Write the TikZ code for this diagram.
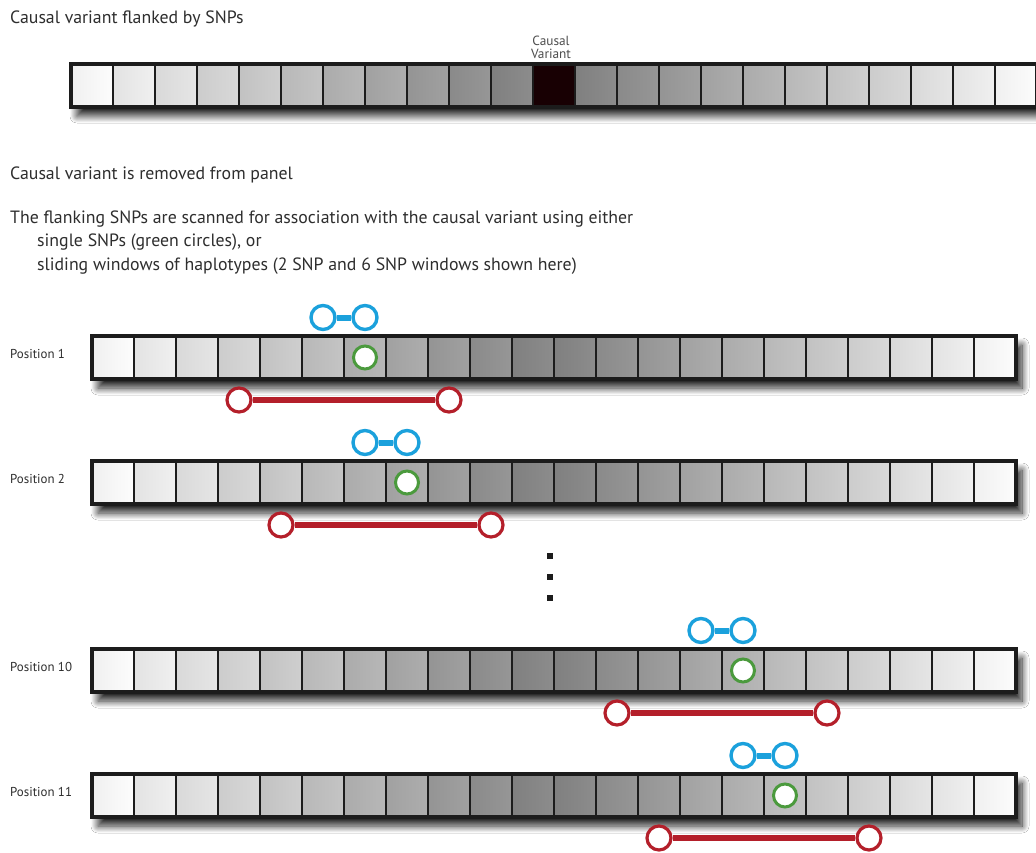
\documentclass[tikz,border=0pt]{standalone}
\usepackage{fontspec}
\setmainfont{PT Sans}
\usetikzlibrary{shadows.blur}

\definecolor{txt}{HTML}{2E2E2E}
\definecolor{snpblue}{HTML}{1BA1DC}
\definecolor{snpgreen}{HTML}{4B9A3D}
\definecolor{snpred}{HTML}{B41F2A}
\definecolor{causal}{HTML}{180003}
\definecolor{edge}{HTML}{1C1C1C}

\tikzset{
  head text/.style={text=txt, inner sep=0pt, anchor=base west, font=\fontsize{17.8}{20}\selectfont},
  small text/.style={text=txt, inner sep=0pt, anchor=base west, font=\fontsize{12.9}{15}\selectfont},
  tag text/.style={text=txt!85, inner sep=0pt, align=center, font=\fontsize{13.3}{16}\selectfont},
  single snp/.style={circle, draw=snpgreen, line width=3pt, fill=white, minimum size=23pt, inner sep=0pt},
  pair snp/.style={circle, draw=snpblue, line width=3.4pt, fill=white, minimum size=24pt, inner sep=0pt},
  window snp/.style={circle, draw=snpred, line width=3.2pt, fill=white, minimum size=24pt, inner sep=0pt},
  pair link/.style={draw=snpblue, line width=6pt},
  window link/.style={draw=snpred, line width=5.5pt},
  cellgrid/.style={draw=edge, line width=2.5pt},
  barframe/.style={draw=edge, line width=3.5pt},
  bar shadow/.style={blur shadow={shadow xshift=6pt, shadow yshift=-9pt,
      shadow blur radius=7pt, shadow blur steps=14, shadow opacity=85}},
  gapdot/.style={rectangle, fill=edge, minimum size=6pt, inner sep=0pt},
}

\begin{document}
\begin{tikzpicture}[x=1pt,y=-1pt]
\clip (0,0) rectangle (1036,853);
\fill[white] (0,0) rectangle (1036,853);

% captions
\node[head text] (t1) at (10,23.5) {Causal variant flanked by SNPs};
\node[head text] (t2) at (10,179.5) {Causal variant is removed from panel};
\node[head text] (t3) at (10,224) {The flanking SNPs are scanned for association with the causal variant using either};
\node[head text] (t4) at (37,247) {single SNPs (green circles), or};
\node[head text] (t5) at (37,270) {sliding windows of haplotypes (2 SNP and 6 SNP windows shown here)};

% full panel with the causal variant in the middle
\path[bar shadow] (71,64) rectangle ++(966,43);
\foreach \i in {0,...,22} {
  \pgfmathtruncatemacro\d{min(\i,22-\i)}
  \pgfmathtruncatemacro\lo{94-4.4*\d}
  \pgfmathtruncatemacro\hi{99-4.4*\d}
  \shade[left color=white!\lo!black, right color=white!\hi!black] ({71+42*\i},64) rectangle ++(42,43);
}
\fill[causal] (533,64) rectangle ++(42,43);
\foreach \i in {1,...,22} \draw[cellgrid] ({71+42*\i},64) -- ++(0,43);
\draw[barframe] (71,64) rectangle ++(966,43);
\node[tag text] (cv) at (551,47) {Causal\\[-3pt]Variant};

% scanned panels
\foreach \k/\yy in {1/336, 2/461, 10/649, 11/774} {
  \path[bar shadow] (92,\yy) rectangle ++(924,43);
  \foreach \i in {0,...,21} {
    \pgfmathtruncatemacro\d{min(\i,21-\i)}
    \pgfmathtruncatemacro\lo{94-4.4*\d}
    \pgfmathtruncatemacro\hi{99-4.4*\d}
    \shade[left color=white!\lo!black, right color=white!\hi!black] ({92+42*\i},\yy) rectangle ++(42,43);
  }
  \foreach \i in {1,...,21} \draw[cellgrid] ({92+42*\i},\yy) -- ++(0,43);
  \draw[barframe] (92,\yy) rectangle ++(924,43);
  \node[small text] (lab\k) at (10,{\yy+22}) {Position \k};
  % single SNP
  \node[single snp] (g\k) at ({92+42*(\k+5)+21},{\yy+21.5}) {};
  % 2 SNP window
  \node[pair snp] (ba\k) at ({92+42*(\k+4)+21},{\yy-18.5}) {};
  \node[pair snp] (bb\k) at ({92+42*(\k+5)+21},{\yy-18.5}) {};
  \draw[pair link] (ba\k) -- (bb\k);
  % 6 SNP window
  \node[window snp] (ra\k) at ({92+42*(\k+2)+21},{\yy+64}) {};
  \node[window snp] (rb\k) at ({92+42*(\k+7)+21},{\yy+64}) {};
  \draw[window link] (ra\k) -- (rb\k);
}

% skipped positions
\node[gapdot] (d1) at (550,556) {};
\node[gapdot] (d2) at (550,577) {};
\node[gapdot] (d3) at (550,598) {};
\end{tikzpicture}
\end{document}
